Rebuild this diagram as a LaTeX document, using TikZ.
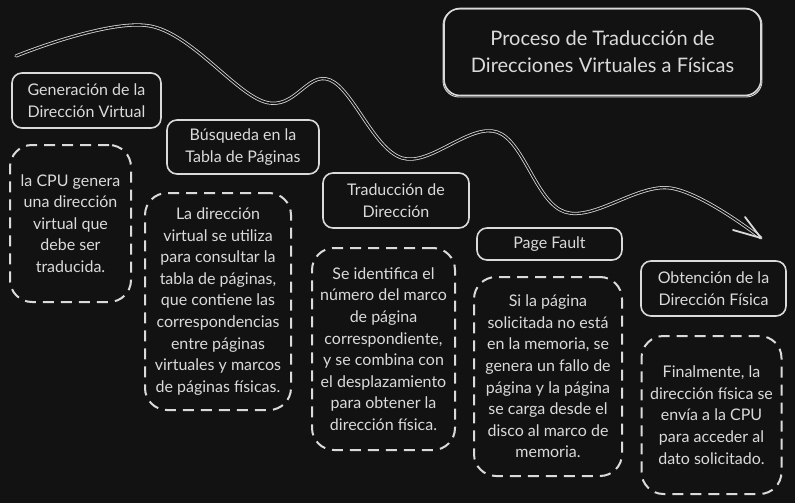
\documentclass[tikz,border=0pt]{standalone}
\usepackage{fontspec}
\setmainfont{Lato}
\usetikzlibrary{arrows.meta}
\definecolor{bgc}{HTML}{121212}
\definecolor{ink}{HTML}{DADADA}
\tikzset{
  labelbox/.style={draw=ink, line width=1.6pt, rounded corners=10pt, text=ink, align=center,
    font=\fontsize{16}{21.5}\selectfont, inner sep=0pt},
  notebox/.style={draw=ink, line width=2pt, rounded corners=22pt, dash pattern=on 11pt off 7pt,
    text=ink, align=center, font=\fontsize{16}{21.6}\selectfont, inner sep=0pt},
  titlebox/.style={draw=ink, line width=1.6pt, rounded corners=16pt, text=ink, align=center,
    font=\fontsize{20}{27}\selectfont, inner sep=0pt},
  sketch/.style={draw=ink, line width=0.9pt, rounded corners=16pt},
  flow/.style={draw=ink, line width=0.8pt, double=bgc, double distance=1.6pt, line cap=round},
  barb/.style={draw=ink, line width=1.8pt, line cap=round}
}
\begin{document}
\begin{tikzpicture}[x=1pt,y=1pt]
\fill[bgc] (0,0) rectangle (795,-503);
\useasboundingbox (0,0) rectangle (795,-503);

\node[titlebox, minimum width=317pt, minimum height=87pt] (title) at (602.5,-52)
  {Proceso de Traducción de\\Direcciones Virtuales a Físicas};
\draw[sketch] (443,-9) rectangle (762,-97);

\node[labelbox, minimum width=149pt, minimum height=55pt] (s1) at (86.5,-100.5)
  {Generación de la\\Dirección Virtual};
\node[labelbox, minimum width=152pt, minimum height=54pt] (s2) at (243,-147)
  {Búsqueda en la\\Tabla de Páginas};
\node[labelbox, minimum width=146pt, minimum height=55pt] (s3) at (396,-200.5)
  {Traducción de\\Dirección};
\node[labelbox, minimum width=145pt, minimum height=32pt] (s4) at (549.5,-244)
  {Page Fault};
\node[labelbox, minimum width=145pt, minimum height=55pt] (s5) at (713.5,-288.5)
  {Obtención de la\\Dirección Física};

\node[notebox, minimum width=121pt, minimum height=157pt] (d1) at (70.5,-223.5)
  {la CPU genera\\una dirección\\virtual que\\debe ser\\traducida.};
\node[notebox, minimum width=146pt, minimum height=217pt] (d2) at (218,-301.5)
  {La dirección\\virtual se utiliza\\para consultar la\\tabla de páginas,\\que contiene las\\correspondencias\\entre páginas\\virtuales y marcos\\de páginas físicas.};
\node[notebox, minimum width=143pt, minimum height=202pt] (d3) at (383.5,-349)
  {Se identifica el\\número del marco\\de página\\correspondiente,\\y se combina con\\el desplazamiento\\para obtener la\\dirección física.};
\node[notebox, minimum width=148pt, minimum height=199pt] (d4) at (548,-376.5)
  {Si la página\\solicitada no está\\en la memoria, se\\genera un fallo de\\página y la página\\se carga desde el\\disco al marco de\\memoria.};
\node[notebox, minimum width=140pt, minimum height=158pt] (d5) at (711.5,-415)
  {Finalmente, la\\dirección física se\\envía a la CPU\\para acceder al\\dato solicitado.};

\coordinate (start) at (16,-56);
\coordinate (tip) at (761,-238);
\draw[flow] plot[smooth, tension=0.6] coordinates {(16,-56) (150,-26) (265,-102) (330,-80) (402,-158) (497,-132) (565,-212) (670,-188) (761,-238)};
\draw[barb] (tip) -- (745,-217);
\draw[barb] (tip) -- (733,-230);
\end{tikzpicture}
\end{document}
